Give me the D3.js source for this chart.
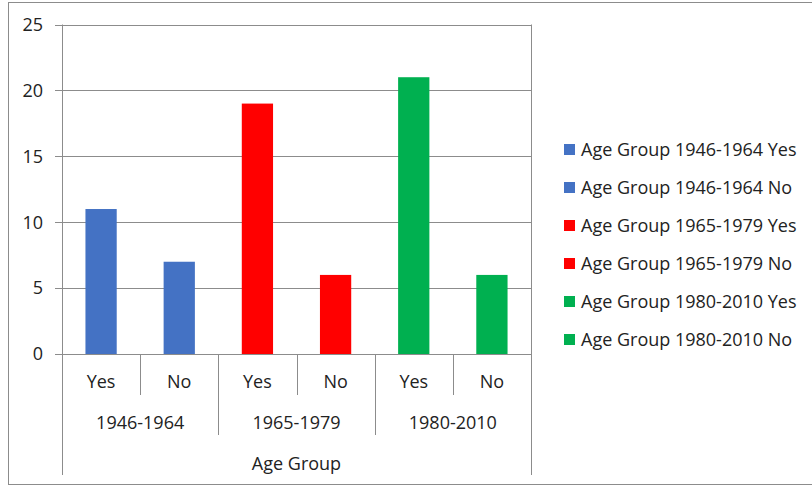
<!DOCTYPE html>
<meta charset="utf-8">
<style>
body { margin: 0; background: #fff; }
text { font-family: "Open Sans", Lato, sans-serif; fill: #222; font-size: 18px; }
</style>
<body>
<script src="https://d3js.org/d3.v7.min.js"></script>
<script>

// data
var groups = ["1946-1964", "1965-1979", "1980-2010"];
var answers = ["Yes", "No"];
var values = [11, 7, 19, 6, 21, 6];
var groupColors = ["#4472C4", "#FF0000", "#00B050"];
var yTicks = [0, 5, 10, 15, 20, 25];
var axisTitle = "Age Group";

var W = 812, H = 486;
var plot = {left: 62, right: 531, top: 24.5, bottom: 354};

var svg = d3.select("body").append("svg")
    .attr("width", W)
    .attr("height", H);

// outer border
svg.append("rect")
    .attr("x", 8.5).attr("y", 2.5)
    .attr("width", W + 10).attr("height", H - 4)
    .attr("fill", "none")
    .attr("stroke", "#8c8c8c");

// build category list
var cats = [];
groups.forEach(function(g, gi) {
  answers.forEach(function(a, ai) {
    cats.push({group: g, gi: gi, answer: a, value: values[gi * answers.length + ai]});
  });
});

var x = d3.scaleBand()
    .domain(d3.range(cats.length))
    .range([plot.left, plot.right])
    .paddingInner(0.6)
    .paddingOuter(0.3);

var xEdge = d3.scaleLinear().domain([0, cats.length]).range([plot.left, plot.right]);

var y = d3.scaleLinear()
    .domain([0, 25])
    .range([plot.bottom, plot.top]);

// gridlines
svg.append("g").selectAll("line")
    .data(yTicks)
  .join("line")
    .attr("x1", plot.left - 7)
    .attr("x2", plot.right)
    .attr("y1", d => Math.round(y(d)) + 0.5)
    .attr("y2", d => Math.round(y(d)) + 0.5)
    .attr("stroke", "#8c8c8c");

// y labels
svg.append("g").selectAll("text")
    .data(yTicks)
  .join("text")
    .attr("x", 43)
    .attr("y", d => y(d))
    .attr("dy", "0.35em")
    .attr("text-anchor", "end")
    .text(d => d);

// bars
svg.append("g").selectAll("rect")
    .data(cats)
  .join("rect")
    .attr("x", (d, i) => x(i))
    .attr("width", x.bandwidth())
    .attr("y", d => y(d.value))
    .attr("height", d => y(0) - y(d.value))
    .attr("fill", d => groupColors[d.gi]);

// category axis dividers
var ax = svg.append("g").attr("stroke", "#8c8c8c");
[0, cats.length].forEach(function(k) {
  ax.append("line")
    .attr("x1", Math.round(xEdge(k)) + 0.5).attr("x2", Math.round(xEdge(k)) + 0.5)
    .attr("y1", plot.top).attr("y2", 475);
});
d3.range(1, cats.length).forEach(function(k) {
  var long = k % answers.length === 0;
  ax.append("line")
    .attr("x1", Math.round(xEdge(k)) + 0.5).attr("x2", Math.round(xEdge(k)) + 0.5)
    .attr("y1", plot.bottom).attr("y2", long ? 435 : 395);
});

// answer labels
svg.append("g").selectAll("text")
    .data(cats)
  .join("text")
    .attr("x", (d, i) => x(i) + x.bandwidth() / 2)
    .attr("y", 388)
    .attr("text-anchor", "middle")
    .text(d => d.answer);

// group labels
svg.append("g").selectAll("text")
    .data(groups)
  .join("text")
    .attr("x", (d, i) => xEdge(i * answers.length + answers.length / 2))
    .attr("y", 429)
    .attr("text-anchor", "middle")
    .text(d => d);

// axis title
svg.append("text")
    .attr("x", (plot.left + plot.right) / 2)
    .attr("y", 470)
    .attr("text-anchor", "middle")
    .text(axisTitle);

// legend
var legend = svg.append("g").selectAll("g")
    .data(cats)
  .join("g")
    .attr("transform", (d, i) => `translate(564, ${150 + i * 38})`);

legend.append("rect")
    .attr("x", 0).attr("y", -6)
    .attr("width", 11).attr("height", 11)
    .attr("fill", d => groupColors[d.gi]);

legend.append("text")
    .attr("x", 17)
    .attr("y", 0)
    .attr("dy", "0.35em")
    .text(d => axisTitle + " " + d.group + " " + d.answer);

</script>
</body>
